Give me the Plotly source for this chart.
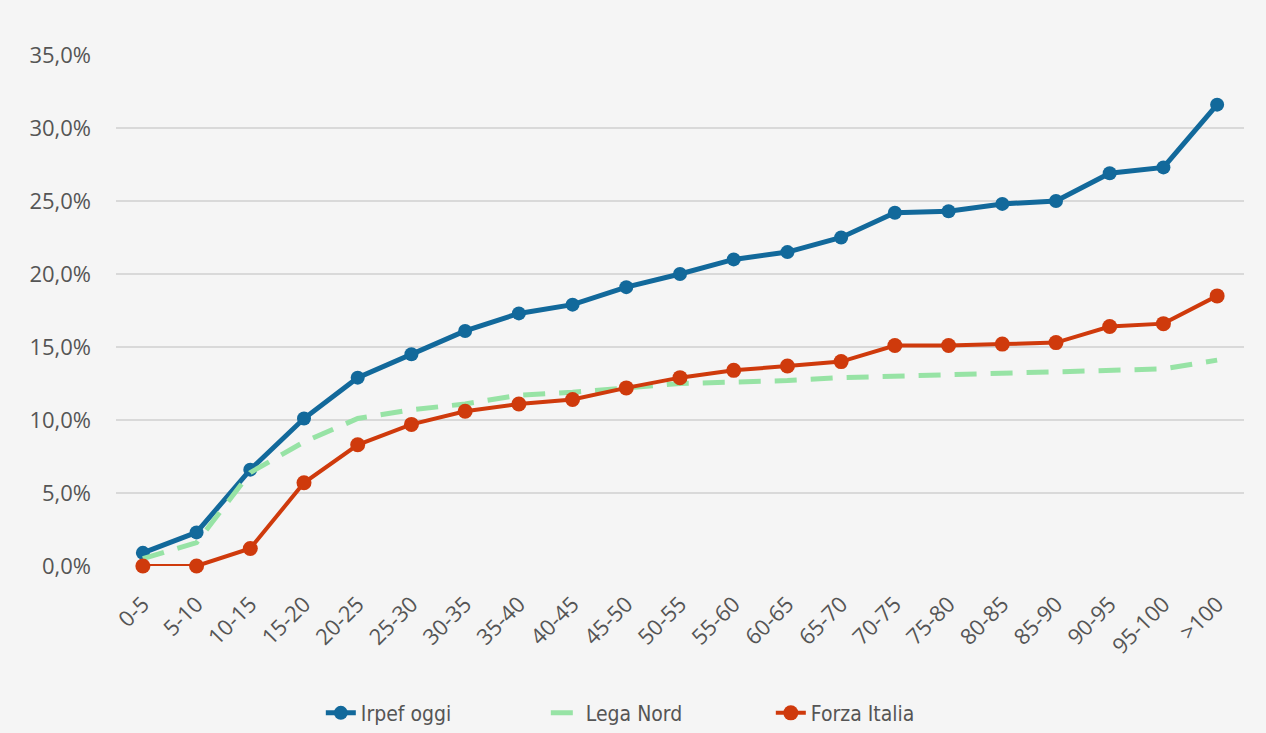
import plotly.graph_objects as go

# Income brackets (thousands of euro)
brackets = ["0-5", "5-10", "10-15", "15-20", "20-25", "25-30", "30-35", "35-40",
            "40-45", "45-50", "50-55", "55-60", "60-65", "65-70", "70-75", "75-80",
            "80-85", "85-90", "90-95", "95-100", ">100"]

# Average tax rate per bracket (%)
irpef_oggi = [0.9, 2.3, 6.6, 10.1, 12.9, 14.5, 16.1, 17.3, 17.9, 19.1, 20.0,
              21.0, 21.5, 22.5, 24.2, 24.3, 24.8, 25.0, 26.9, 27.3, 31.6]
lega_nord = [0.5, 1.6, 6.4, 8.5, 10.1, 10.7, 11.1, 11.7, 11.9, 12.2, 12.5,
             12.6, 12.7, 12.9, 13.0, 13.1, 13.2, 13.3, 13.4, 13.5, 14.1]
forza_italia = [0.0, 0.0, 1.2, 5.7, 8.3, 9.7, 10.6, 11.1, 11.4, 12.2, 12.9,
                13.4, 13.7, 14.0, 15.1, 15.1, 15.2, 15.3, 16.4, 16.6, 18.5]

y_ticks = [0, 5, 10, 15, 20, 25, 30, 35]
y_tick_text = [f"{v:.1f}".replace(".", ",") + "%" for v in y_ticks]

BLUE = "#12699b"
GREEN = "#97e3a5"
RED = "#cf3a0c"
TEXT = "#555555"
FONT = "Open Sans, Liberation Sans, sans-serif"
NARROW = "Liberation Sans Narrow, DejaVu Sans Condensed, Open Sans"

fig = go.Figure()
fig.add_trace(go.Scatter(
    x=brackets, y=irpef_oggi, name="Irpef oggi", mode="lines+markers",
    line=dict(color=BLUE, width=5), marker=dict(color=BLUE, size=14),
    cliponaxis=False,
))
fig.add_trace(go.Scatter(
    x=brackets, y=lega_nord, name="Lega Nord", mode="lines",
    line=dict(color=GREEN, width=5, dash="22px,14px"),
    cliponaxis=False,
))
fig.add_trace(go.Scatter(
    x=brackets, y=forza_italia, name="Forza Italia", mode="lines+markers",
    line=dict(color=RED, width=4), marker=dict(color=RED, size=15),
    cliponaxis=False,
))

fig.update_layout(
    width=1266, height=733,
    margin=dict(l=116, r=22, t=55, b=167, autoexpand=False),
    paper_bgcolor="#f5f5f5", plot_bgcolor="#f5f5f5",
    font=dict(family=FONT, color=TEXT, size=20),
    showlegend=True,
    legend=dict(
        orientation="h", xref="container", x=0.52, xanchor="center",
        yref="container", y=0.027, yanchor="middle",
        font=dict(family=NARROW, size=21, color=TEXT),
        entrywidth=180, bgcolor="rgba(0,0,0,0)",
    ),
    xaxis=dict(
        type="category", range=[-0.5, len(brackets) - 0.5], tickangle=-45,
        showgrid=False, zeroline=False, showline=False, ticks="",
        automargin=False, ticklabelstandoff=20,
        tickfont=dict(size=22, color=TEXT),
    ),
    yaxis=dict(
        range=[0, 35], tickvals=y_ticks, ticktext=y_tick_text,
        showgrid=True, gridcolor="#d9d9d9", gridwidth=2, zeroline=False,
        showline=False, ticks="", ticklabelstandoff=24, automargin=False,
        tickfont=dict(size=22, color=TEXT),
    ),
)

fig.write_html("out.html")
